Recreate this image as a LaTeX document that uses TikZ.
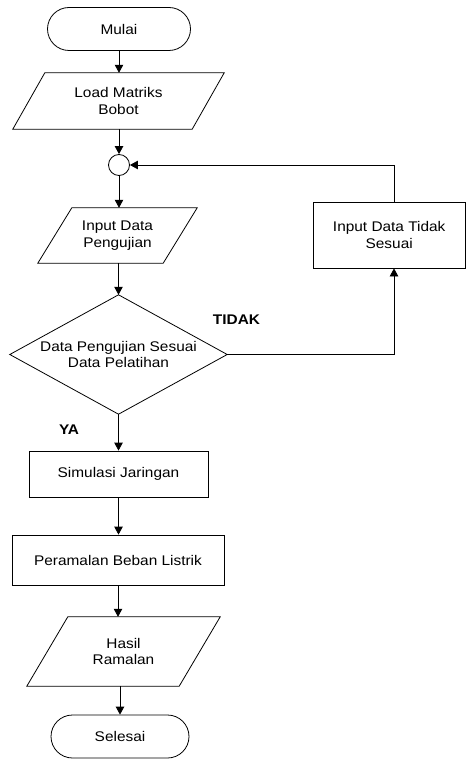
\documentclass[tikz,border=0pt]{standalone}
\usepackage{fontspec}
\setmainfont{Liberation Sans}[FakeStretch=1.1]
\usetikzlibrary{arrows.meta,shapes.misc,calc}

% slanted input/output outline drawn around a (borderless) node
\newcommand\ioshape[2]{%
  \draw[line] ([xshift=#2]#1.north west) -- ([xshift=#2]#1.north east)
    -- ([xshift=-#2]#1.south east) -- ([xshift=-#2]#1.south west) -- cycle;}

\begin{document}
\begin{tikzpicture}[x=1pt,y=-1pt,
  every node/.style={font=\fontsize{14}{16.5}\selectfont, align=center, inner sep=0pt},
  line/.style={line width=0.8pt},
  arr/.style={line, -{Triangle[length=8pt,width=8.5pt]}},
  terminal/.style={rounded rectangle, draw, line, minimum height=43pt},
  procbox/.style={rectangle, draw, line},
  lbl/.style={font=\fontsize{14}{16.5}\selectfont\bfseries},
]
\useasboundingbox (0,0) rectangle (466,759);

% main column
\node[terminal, minimum width=143pt] (mulai) at (119,29) {Mulai};
\node[minimum width=179pt, minimum height=56pt] (load) at (118.5,101) {Load Matriks\\Bobot};
\ioshape{load}{16pt}
\node[circle, draw, line, minimum size=21pt] (join) at (119,165) {};
\node[minimum width=125pt, minimum height=55pt] (input) at (117.5,235.5) {Input Data\\Pengujian};
\ioshape{input}{17pt}
\node[minimum width=217pt, minimum height=119pt] (dec) at (118.5,354.5) {Data Pengujian Sesuai\\Data Pelatihan};
\draw[line] (dec.north) -- (dec.east) -- (dec.south) -- (dec.west) -- cycle;
\node[procbox, minimum width=179pt, minimum height=46pt] (sim) at (118.5,474) {Simulasi Jaringan};
\node[procbox, minimum width=212pt, minimum height=50pt] (peram) at (118,560) {Peramalan Beban Listrik};
\node[minimum width=152pt, minimum height=69pt] (hasil) at (123.5,651.5) {Hasil\\Ramalan};
\ioshape{hasil}{20.5pt}
\node[terminal, minimum width=138pt] (selesai) at (120,736.5) {Selesai};

% side branch
\node[procbox, minimum width=152pt, minimum height=66pt] (tidak) at (389.2,235) {Input Data Tidak\\Sesuai};
\coordinate (turn) at (394,165);

% branch labels
\node[lbl] (nolbl) at (236.5,320) {TIDAK};
\node[lbl] (yeslbl) at (69,430) {YA};

% connectors
\draw[arr] (mulai.south) -- (mulai.south |- load.north);
\draw[arr] (load.south -| join) -- (join.north);
\draw[arr] (join.south) -- (join.south |- input.north);
\draw[arr] (input.south -| dec.north) -- (dec.north);
\draw[arr] (dec.south) -- (dec.south |- sim.north);
\draw[arr] (sim.south) -- (sim.south |- peram.north);
\draw[arr] (peram.south) -- (peram.south |- hasil.north);
\draw[arr] (selesai.north |- hasil.south) -- (selesai.north);
\draw[arr] (dec.east) -| (tidak.south -| turn);
\draw[arr] (tidak.north -| turn) |- (join.east);
\end{tikzpicture}
\end{document}
